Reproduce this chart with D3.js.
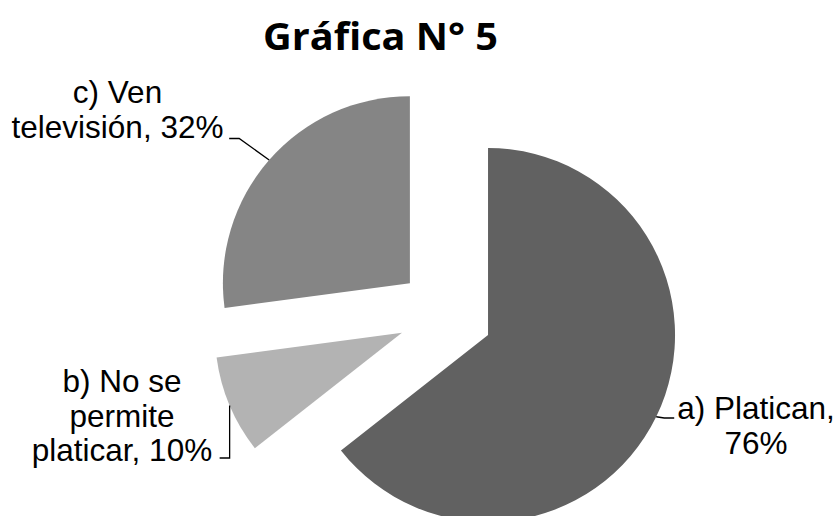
<!DOCTYPE html>
<html>
<head>
<meta charset="utf-8">
<script src="https://cdn.jsdelivr.net/npm/d3@7"></script>
<style>
  html, body { margin: 0; padding: 0; background: #fff; }
  svg { display: block; }
</style>
</head>
<body>
<svg id="chart" width="838" height="516"></svg>
<script>
// ---- data ----
const title = "Gráfica N° 5";
const categories = ["a) Platican", "b) No se permite platicar", "c) Ven televisión"];
const values = [76, 10, 32];
const colors = ["#616161", "#b3b3b3", "#858585"];

// ---- layout ----
const W = 838, H = 516;
const cx = 445.5, cy = 314.3, radius = 187, explode = 47.3;
const labelFont = "'Liberation Sans', Arial, sans-serif";
const labelSize = 31.5, lineGap = 34.5;
// label box: center x, first baseline y, wrap width, leader path side
const labelLayout = [
  { x: 756, y: 419, wrap: 175, leader: "a" },
  { x: 122, y: 392, wrap: 195, leader: "b" },
  { x: 117.5, y: 103, wrap: 225, leader: "c" }
];

const svg = d3.select("#chart");

svg.append("text")
  .attr("x", 380.5).attr("y", 50)
  .attr("text-anchor", "middle")
  .attr("font-family", "'Open Sans', Lato, sans-serif")
  .attr("font-weight", "bold")
  .attr("font-size", 38)
  .attr("textLength", 235)
  .attr("lengthAdjust", "spacingAndGlyphs")
  .attr("fill", "#000")
  .text(title);

const pie = d3.pie().sort(null).value(d => d)(values);
const arc = d3.arc().innerRadius(0).outerRadius(radius);

const slices = pie.map((p, i) => {
  const mid = (p.startAngle + p.endAngle) / 2;
  const ox = cx + Math.sin(mid) * explode;
  const oy = cy - Math.cos(mid) * explode;
  const edge = [ox + Math.sin(mid) * radius, oy - Math.cos(mid) * radius];
  return { p, i, ox, oy, edge };
});

svg.append("g").selectAll("path")
  .data(slices)
  .join("path")
  .attr("transform", d => `translate(${d.ox},${d.oy})`)
  .attr("d", d => arc(d.p))
  .attr("fill", d => colors[d.i]);

// labels
const lg = svg.append("g");
slices.forEach(s => {
  const L = labelLayout[s.i];
  const full = `${categories[s.i]}, ${values[s.i]}%`;
  const words = full.split(" ");
  const t = lg.append("text")
    .attr("font-family", labelFont)
    .attr("font-size", labelSize)
    .attr("text-anchor", "middle")
    .attr("fill", "#000");
  // wrap
  const lines = [];
  let cur = [];
  const probe = t.append("tspan");
  words.forEach(w => {
    const test = cur.concat([w]).join(" ");
    probe.text(test);
    if (probe.node().getComputedTextLength() > L.wrap && cur.length) {
      lines.push(cur.join(" "));
      cur = [w];
    } else cur.push(w);
  });
  lines.push(cur.join(" "));
  probe.remove();
  lines.forEach((ln, k) => {
    t.append("tspan").attr("x", L.x).attr("y", L.y + k * lineGap).text(ln);
  });

  // leader line
  const e = s.edge;
  let pts;
  const lastY = L.y + (lines.length - 1) * lineGap;
  if (L.leader === "a") {
    pts = [e, [e[0] + 8, L.y - 1], [e[0] + 18, L.y - 1]];
  } else if (L.leader === "b") {
    pts = [e, [e[0], lastY - 3], [e[0] - 10, lastY - 3]];
  } else {
    pts = [e, [e[0] - 30, L.y + lineGap + 1], [e[0] - 40, L.y + lineGap + 1]];
  }
  lg.append("path")
    .attr("d", d3.line()(pts))
    .attr("fill", "none")
    .attr("stroke", "#000")
    .attr("stroke-width", 1.3);
});
</script>
</body>
</html>
